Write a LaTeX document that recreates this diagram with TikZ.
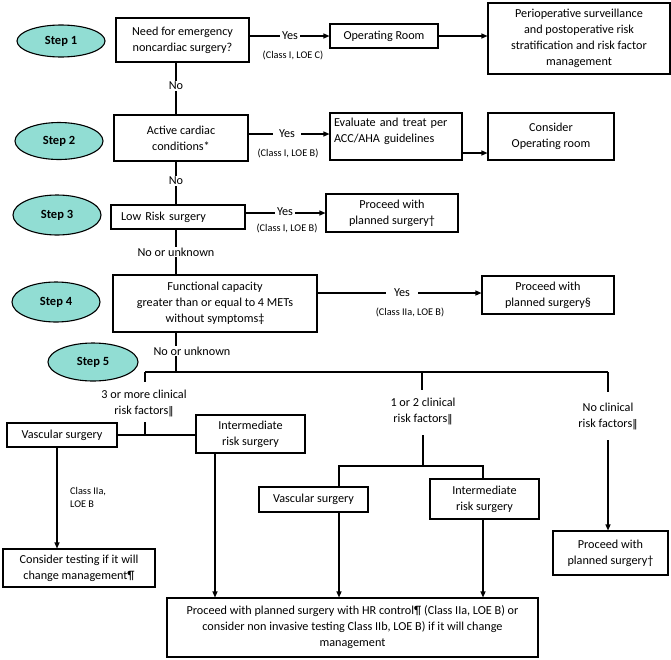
\documentclass[tikz,border=0pt]{standalone}
\usepackage{fontspec}
\setmainfont{Carlito}
\newfontfamily\djfont{DejaVu Sans}
\usetikzlibrary{arrows.meta,shapes.geometric}
\newcommand{\dbar}{{\djfont\fontsize{10.5}{10}\selectfont ‖}}
\definecolor{stepfill}{RGB}{145,221,211}
\tikzset{
  box/.style={draw, line width=1.1pt, inner sep=0pt, align=center, font=\fontsize{12.2}{16}\selectfont},
  stepell/.style={ellipse, draw, line width=1.1pt, fill=stepfill, inner sep=0pt, font=\fontsize{12.5}{13}\selectfont\bfseries},
  conn/.style={line width=1.1pt},
  arr/.style={line width=1.1pt, -{Triangle[length=6pt,width=5pt]}},
  lbl/.style={font=\fontsize{12.2}{16}\selectfont, align=center, inner sep=1pt},
  yeslbl/.style={font=\fontsize{12.2}{13}\selectfont, fill=white, inner sep=2pt},
  cls/.style={font=\fontsize{10.3}{10}\selectfont, inner sep=0pt}
}
\begin{document}
\begin{tikzpicture}[x=1pt,y=-1pt]
\path[use as bounding box, fill=white] (0,0) rectangle (671,659);
\coordinate (sp) at (176,0);

% step ellipses
\node[stepell, minimum width=88pt, minimum height=32pt] (s1) at (61,41) {Step 1};
\node[stepell, minimum width=88pt, minimum height=37pt] (s2) at (59,141) {Step 2};
\node[stepell, minimum width=88pt, minimum height=40pt] (s3) at (57,215) {Step 3};
\node[stepell, minimum width=88pt, minimum height=40pt] (s4) at (56,302) {Step 4};
\node[stepell, minimum width=90pt, minimum height=38pt] (s5) at (93,362) {Step 5};

% step 1
\node[box, minimum width=133pt, minimum height=44pt] (b1) at (182.5,40) {Need for emergency\\noncardiac surgery?};
\node[box, minimum width=108pt, minimum height=24pt] (orr) at (384,36) {Operating Room};
\node[box, minimum width=182pt, minimum height=71pt] (periop) at (579,38.5) {Perioperative surveillance\\and postoperative risk\\stratification and risk factor\\management};
\draw[arr] (b1.east |- orr) -- (orr.west);
\node[yeslbl] (y1) at (290,36) {Yes};
\node[cls] (c1) at (293,55) {(Class I, LOE C)};
\draw[arr] (orr.east) -- (periop.west |- orr);

% step 2
\node[box, minimum width=134pt, minimum height=46pt] (b2) at (181,138) {Active cardiac\\conditions*};
\node[box, minimum width=132pt, minimum height=47pt, text width=124pt, align=left] (ev) at (396,136.5) {Evaluate and treat per\\ACC/AHA guidelines\\[-4pt]\mbox{}};
\node[box, minimum width=126pt, minimum height=47pt] (cons) at (551,136.5) {Consider\\Operating room};
\draw[conn] (b1.south -| sp) -- (b2.north -| sp);
\node[lbl, fill=white] (no1) at (176,86) {No};
\draw[arr] (b2.east |- 0,134) -- (ev.west |- 0,134);
\node[yeslbl, inner xsep=6pt] (y2) at (287,134) {Yes};
\node[cls] (c2) at (288,153) {(Class I, LOE B)};
\draw[arr] (ev.east |- 0,153) -- (cons.west |- 0,153);

% step 3
\node[box, minimum width=134pt, minimum height=24pt, text width=114pt, align=left] (b3) at (178,217) {Low Risk surgery};
\node[box, minimum width=132pt, minimum height=38pt] (p1) at (392,213) {Proceed with\\planned surgery†};
\draw[conn] (b2.south -| sp) -- (b3.north -| sp);
\node[lbl, fill=white] (no2) at (176,181) {No};
\draw[arr] (b3.east |- p1) -- (p1.west);
\node[yeslbl] (y3) at (285,212) {Yes};
\node[cls] (c3) at (287,228) {(Class I, LOE B)};

% step 4
\node[box, minimum width=204pt, minimum height=57pt] (b4) at (215,303.5) {Functional capacity\\greater than or equal to 4 METs\\without symptoms‡};
\node[box, minimum width=132pt, minimum height=38pt] (p2) at (548,295) {Proceed with\\planned surgery§};
\draw[conn] (b3.south -| sp) -- (b4.north -| sp);
\node[lbl, fill=white] (nu1) at (176,252) {No or unknown};
\draw[arr] (b4.east |- 0,293) -- (p2.west |- 0,293);
\node[yeslbl, inner xsep=8pt] (y4) at (402,293) {Yes};
\node[cls] (c4) at (410,312) {(Class IIa, LOE B)};

% step 5 split
\coordinate (j5) at (176,372);
\coordinate (jl) at (145,372);
\coordinate (jm) at (422,372);
\coordinate (jr) at (608,372);
\draw[conn] (b4.south -| sp) -- (j5);
\node[lbl, fill=white] (nu2) at (192,351) {No or unknown};
\draw[conn] (jl) -- (jr);
\draw[conn] (jl) -- ++(0,10);
\draw[conn] (jm) -- ++(0,18);
\draw[conn] (jr) -- ++(0,20);

\node[lbl] (t3) at (144,403) {3 or more clinical\\risk factors\dbar};
\node[lbl] (t12) at (423,411) {1 or 2 clinical\\risk factors\dbar};
\node[lbl] (t0) at (608,416) {No clinical\\risk factors\dbar};

% 3 or more
\node[box, minimum width=110pt, minimum height=24pt] (v1) at (62,435) {Vascular surgery};
\node[box, minimum width=109pt, minimum height=38pt] (i1) at (250.5,434) {Intermediate\\risk surgery};
\draw[conn] (v1.east) -- (i1.west |- v1.east);
\draw[conn] (145,435) -- (145,422);
\node[box, minimum width=152pt, minimum height=38pt] (ct) at (79,568) {Consider testing if it will\\change management¶};
\draw[arr] (v1.south -| 57,0) -- (ct.north -| 57,0);
\node[cls, align=left, anchor=west, font=\fontsize{10.3}{13}\selectfont] (c5) at (70,497) {Class IIa,\\LOE B};

% final box
\node[box, minimum width=371pt, minimum height=59pt] (fin) at (352.5,627.5) {Proceed with planned surgery with HR control¶ (Class IIa, LOE B) or\\consider non invasive testing Class IIb, LOE B) if it will change\\management};
\draw[arr] (i1.south -| 215,0) -- (fin.north -| 215,0);

% 1 or 2
\coordinate (k1) at (423,466);
\draw[conn] (423,435) -- (k1);
\node[box, minimum width=109pt, minimum height=25pt] (v2) at (313.5,499.5) {Vascular surgery};
\node[box, minimum width=109pt, minimum height=40pt] (i2) at (484.5,499) {Intermediate\\risk surgery};
\draw[conn] (v2.north -| 339,0) |- (k1) -| (i2.north -| 483,0);
\draw[arr] (v2.south -| 339,0) -- (fin.north -| 339,0);
\draw[arr] (i2.south -| 483,0) -- (fin.north -| 483,0);

% none
\node[box, minimum width=115pt, minimum height=44pt] (p3) at (610.5,553) {Proceed with\\planned surgery†};
\draw[arr] (608,440) -- (p3.north -| 608,0);
\end{tikzpicture}
\end{document}
